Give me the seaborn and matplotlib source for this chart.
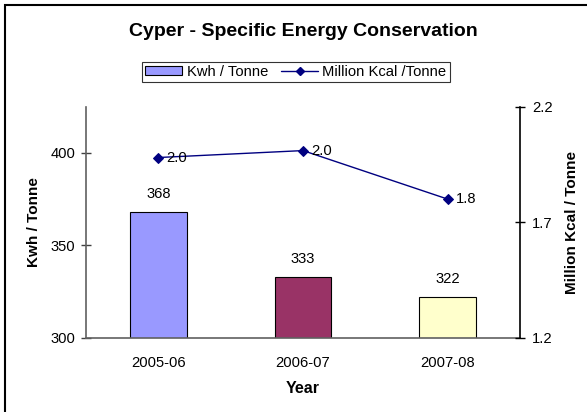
import matplotlib
matplotlib.use("Agg")
import matplotlib.pyplot as plt
import seaborn as sns
import numpy as np
from matplotlib.patches import Rectangle, Patch
from matplotlib.lines import Line2D

years = ["2005-06", "2006-07", "2007-08"]
kwh = [368, 333, 322]
kcal = [1.98, 2.01, 1.80]
kcal_labels = ["2.0", "2.0", "1.8"]
bar_colors = ["#9999FF", "#993366", "#FFFFCC"]
left_ticks = [300, 350, 400]
right_ticks = [1.2, 1.7, 2.2]

sns.set_style("white")
plt.rcParams["font.family"] = ["Liberation Sans", "DejaVu Sans"]
plt.rcParams["text.color"] = "black"
plt.rcParams["axes.labelcolor"] = "black"
plt.rcParams["xtick.color"] = "black"
plt.rcParams["ytick.color"] = "black"

FS = 10.6
fig = plt.figure(figsize=(5.87, 4.12), dpi=100)
ax = fig.add_axes([86/587, 1-337.7/412, (520-86)/587, (337.7-106.7)/412])

sns.barplot(x=years, y=kwh, hue=years, palette=bar_colors, legend=False,
            width=0.39, edgecolor="black", linewidth=0.8, ax=ax, saturation=1)
ax.set_ylim(300, 425)
ax.set_xlim(-0.5, 2.5)
ax.set_yticks(left_ticks)
ax.set_yticklabels([str(t) for t in left_ticks], fontsize=FS)
ax.set_xticks(range(len(years)))
ax.set_xticklabels(years, fontsize=FS)
ax.set_xticks([-0.5, 0.5, 1.5, 2.5], minor=True)
ax.tick_params(axis="x", which="major", length=0, pad=13)
ax.tick_params(axis="x", which="minor", length=7, direction="inout", color="#404040", width=1)
ax.tick_params(axis="y", length=7, direction="inout", color="#404040", width=1, pad=4)
for s in ["top", "right"]:
    ax.spines[s].set_visible(False)
for s in ["left", "bottom"]:
    ax.spines[s].set_color("#606060")
    ax.spines[s].set_linewidth(1.2)
ax.set_xlabel("Year", fontsize=11.5, fontweight="bold", labelpad=8)
ax.set_ylabel("Kwh / Tonne", fontsize=11, fontweight="bold", labelpad=7)

for i, v in enumerate(kwh):
    ax.annotate(str(v), (i, v), xytext=(0, 8), textcoords="offset points",
                ha="center", va="bottom", fontsize=FS)

ax2 = ax.twinx()
sns.lineplot(x=list(range(len(years))), y=kcal, ax=ax2, color="#000080",
             marker="D", markersize=5, linewidth=1, markeredgecolor="#000080")
ax2.set_ylim(1.2, 2.2)
ax2.set_yticks(right_ticks)
ax2.set_yticklabels([f"{t:.1f}" for t in right_ticks], fontsize=FS)
ax2.tick_params(axis="y", length=7, direction="inout", color="black", width=1, pad=5)
for s in ["top", "left", "bottom"]:
    ax2.spines[s].set_visible(False)
ax2.spines["right"].set_color("black")
ax2.spines["right"].set_linewidth(1.2)
ax2.set_ylabel("Million Kcal / Tonne", fontsize=11, fontweight="bold", labelpad=9)
ax2.set_xlim(-0.5, 2.5)
for i, (v, lab) in enumerate(zip(kcal, kcal_labels)):
    ax2.annotate(lab, (i, v), xytext=(6, 0), textcoords="offset points",
                 ha="left", va="center", fontsize=FS)

fig.text(303/587, 1-31/412, "Cyper - Specific Energy Conservation",
         ha="center", va="center", fontsize=14, fontweight="bold")

handles = [Patch(facecolor=bar_colors[0], edgecolor="black", linewidth=0.8),
           Line2D([], [], color="#000080", marker="D", markersize=4, linewidth=1)]
leg = fig.legend(handles, ["Kwh / Tonne", "Million Kcal /Tonne"], loc="center",
                 bbox_to_anchor=(296/587, 1-72/412), ncol=2, fontsize=FS,
                 frameon=True, fancybox=False, borderpad=0.2, handlelength=2.5,
                 handleheight=0.6, columnspacing=0.9, handletextpad=0.3, borderaxespad=0)
leg.get_frame().set_edgecolor("black")
leg.get_frame().set_linewidth(0.8)

fig.patches.append(Rectangle((5/587, -0.1), 2, 1.1 - 5/412, transform=fig.transFigure,
                             fill=False, edgecolor="black", linewidth=1.5))

fig.savefig("out.png", dpi=100)
